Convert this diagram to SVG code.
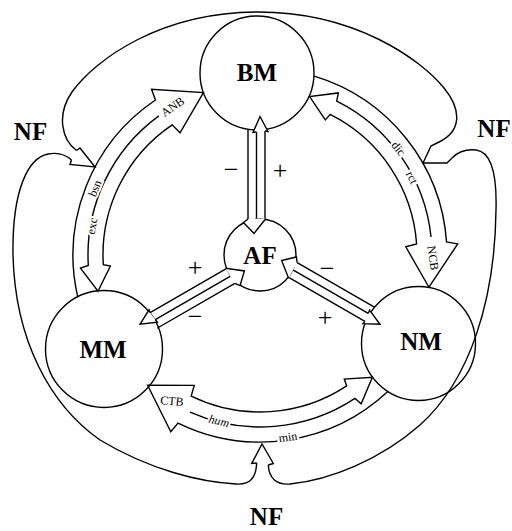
<svg xmlns="http://www.w3.org/2000/svg" width="512" height="531" viewBox="0 0 512 531">
<style>
.node circle{fill:#fff;stroke:#000;stroke-width:1.4}
.big{font-family:"Liberation Serif",serif;font-size:25px;font-weight:bold;text-anchor:middle;fill:#000}
.ln{fill:none;stroke:#000;stroke-width:1.4;stroke-linejoin:miter}
.hd{fill:#fff;stroke:#000;stroke-width:1.4;stroke-linejoin:miter}
.lbl{font-family:"Liberation Serif",serif;font-size:12px;text-anchor:middle;dominant-baseline:central;fill:#000}
.halo{stroke:#fff;stroke-width:4;paint-order:stroke}
.sgn{font-family:"Liberation Serif",serif;font-size:26px;text-anchor:middle;dominant-baseline:central;fill:#000}
</style>
<defs>
<path id="bandShape" d="M77.88,297.42 A187,187 0 0 1 155.43,99.97 L151.54,89.35 L203.43,92.57 L180.03,132.85 L172.21,124.84 A157,157 0 0 0 103.29,264.58 L110.40,265.99 L98.00,291.21 L80.48,268.18 L88.32,265.50 A172,172 0 0 1 158.90,115.85"/>
<g id="spokeShape">
<path class="ln" d="M248,129.3 V219 M265,218.5 V131 M256.5,132 V219"/>
<path class="hd" d="M248,219 L243.5,222.5 L254,233.5 L265.5,219 L265,218.5"/>
<path class="hd" d="M256.5,132 L253,132.5 L260,116.5 L268,131.5 L265,131"/>
</g>
</defs>
<rect width="512" height="531" fill="#fff"/>
<g id="BM" class="node"><circle cx="257" cy="73" r="57"/><text class="big" x="257" y="81">BM</text></g>
<g id="MM" class="node"><circle cx="104" cy="349" r="58.5"/><text class="big" x="103" y="358">MM</text></g>
<g id="NM" class="node"><circle cx="418.5" cy="343.5" r="57"/><text class="big" x="421" y="350">NM</text></g>
<g id="AF" class="node"><circle cx="260" cy="255" r="36"/><text class="big" x="260" y="264">AF</text></g>
<g id="connectors">
<g id="nf-lines">
<path class="ln" d="M76.5,150.5 C62,140 56,115 72,92 C95,60 160,12 258,12 C356,12 421,60 444,88 C462,110 462,132 437,143"/>
<path class="ln" d="M71.5,160 C66,155 58,152 48,154 C28,158 12,190 13,255 C15,340 50,405 100,440 C150,470 200,482 236,484 C250,485 256,478 256.7,463"/>
<path class="ln" d="M268.3,465 C269,478 276,485 290,484 C330,480 380,460 420,425 C470,380 495,300 496,210 C497,175 492,152 476,150 C466,149 458,152 452,158"/>
<path class="ln" d="M71.5,160 L70,164.5 L95,167 L80,148 L76.5,150.5"/>
<path class="ln" d="M437,143 L431,146 L423,163 L447,163 L452,158"/>
<path class="ln" d="M256.7,463 L251.7,463.5 L262,444 L273.3,463.5 L268.3,465"/>
</g>
<g id="band-BM-MM"><use href="#bandShape" class="ln"/></g>
<g id="band-NM-BM" transform="rotate(120 260 255)"><use href="#bandShape" class="ln"/></g>
<g id="band-MM-NM" transform="rotate(240 260 255)"><use href="#bandShape" class="ln"/></g>
<g id="spoke-BM-AF"><use href="#spokeShape"/></g>
<g id="spoke-NM-AF" transform="rotate(120 260 255)"><use href="#spokeShape"/></g>
<g id="spoke-MM-AF" transform="rotate(240 260 255)"><use href="#spokeShape"/></g>
</g>
<g id="labels">
<text class="lbl" font-size="11" transform="translate(172.7,106.8) rotate(-35)">ANB</text>
<text class="lbl halo" transform="translate(95,188.3) rotate(-68)">bsn</text>
<text class="lbl halo" transform="translate(92,226) rotate(-80)">exc</text>
<text class="lbl halo" transform="translate(398.5,148.5) rotate(52)">dic</text>
<text class="lbl halo" transform="translate(412,177.5) rotate(63)">rct</text>
<text class="lbl" font-size="11" transform="translate(433,258) rotate(82)">NCB</text>
<text class="lbl" transform="translate(172,401) rotate(5)">CTB</text>
<text class="lbl halo" font-style="italic" transform="translate(219,421) rotate(14)">hum</text>
<text class="lbl halo" transform="translate(288,437) rotate(-8)">min</text>
<text class="sgn" x="231" y="169">−</text>
<text class="sgn" x="280" y="170">+</text>
<text class="sgn" x="195" y="267">+</text>
<text class="sgn" x="195" y="316">−</text>
<text class="sgn" x="327" y="268">−</text>
<text class="sgn" x="325" y="317">+</text>
<text class="big" x="30.5" y="140">NF</text>
<text class="big" x="494" y="137">NF</text>
<text class="big" x="266.5" y="525">NF</text>
</g>
</svg>
